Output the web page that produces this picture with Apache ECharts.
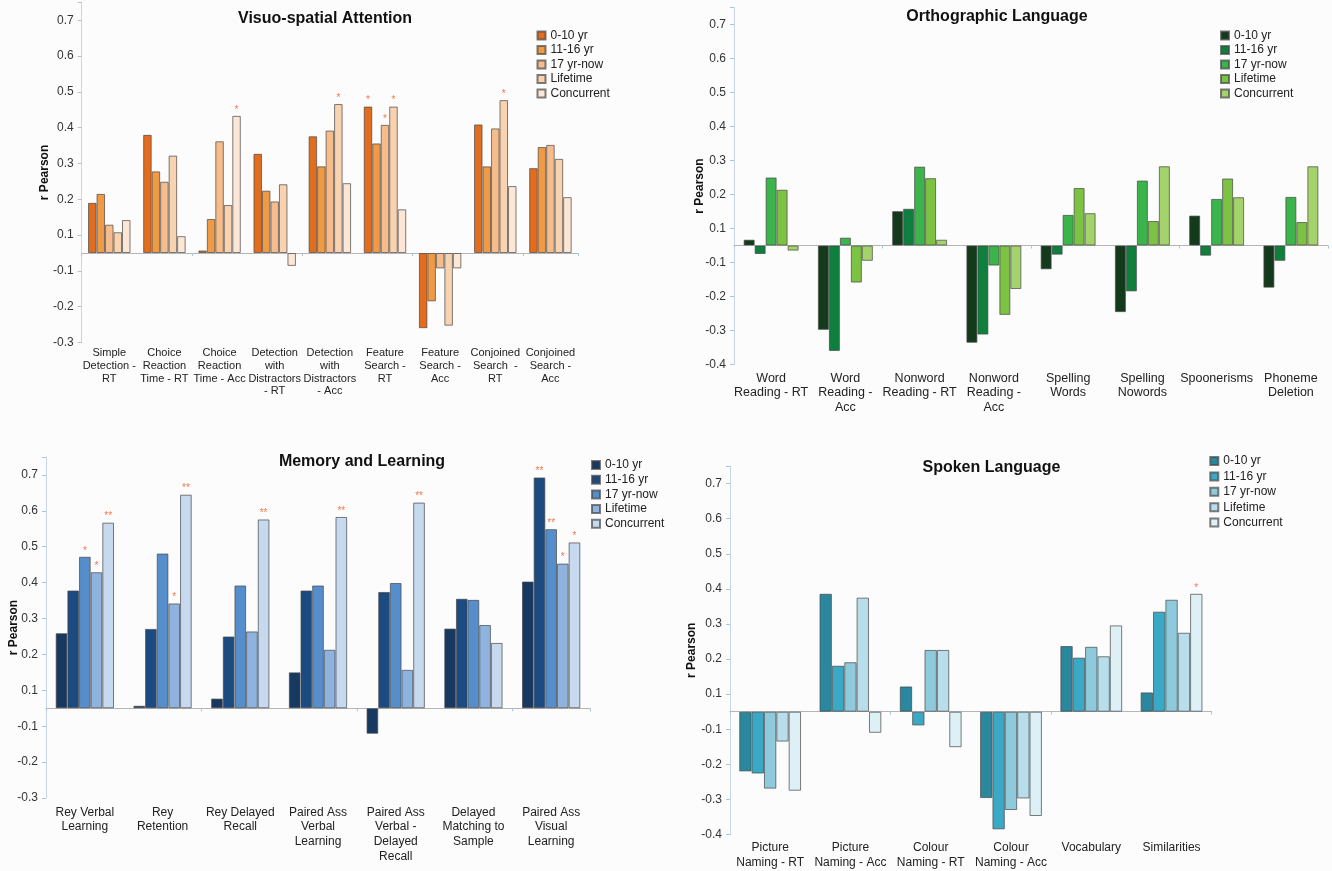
<!DOCTYPE html>
<html>
<head>
<meta charset="utf-8">
<script src="https://cdn.jsdelivr.net/npm/echarts@6/dist/echarts.min.js"></script>
<style>
  html, body { margin: 0; padding: 0; background: #fcfcfd; }
  .panel { position: absolute; }
</style>
</head>
<body>
<div id="visuo" class="panel" style="left:0;top:0;width:666px;height:435px"></div>
<div id="ortho" class="panel" style="left:666px;top:0;width:666px;height:435px"></div>
<div id="memory" class="panel" style="left:0;top:435px;width:700px;height:436px"></div>
<div id="spoken" class="panel" style="left:666px;top:435px;width:666px;height:436px"></div>
<script>
// Exposure periods (one bar per period in every task group)
const periodNames = ['0-10 yr', '11-16 yr', '17 yr-now', 'Lifetime', 'Concurrent'];

// ---- Visuo-spatial Attention ----
const visuoTasks = ['Simple\nDetection -\nRT', 'Choice\nReaction\nTime - RT', 'Choice\nReaction\nTime - Acc',
  'Detection\nwith\nDistractors\n- RT', 'Detection\nwith\nDistractors\n- Acc', 'Feature\nSearch -\nRT',
  'Feature\nSearch -\nAcc', 'Conjoined\nSearch  -\nRT', 'Conjoined\nSearch -\nAcc'];
const visuoR = [
  [0.140, 0.330, 0.007, 0.277, 0.326, 0.409, -0.210, 0.359, 0.237],
  [0.165, 0.228, 0.095, 0.174, 0.242, 0.306, -0.135, 0.242, 0.296],
  [0.079, 0.199, 0.312, 0.144, 0.342, 0.358, -0.043, 0.348, 0.302],
  [0.058, 0.272, 0.134, 0.192, 0.416, 0.409, -0.203, 0.427, 0.263],
  [0.092, 0.047, 0.383, -0.036, 0.195, 0.122, -0.043, 0.187, 0.156]
];
const visuoSig = [
  ['', '', '', '', '', '*', '', '', ''],
  ['', '', '', '', '', '', '', '', ''],
  ['', '', '', '', '', '*', '', '', ''],
  ['', '', '', '', '*', '*', '', '*', ''],
  ['', '', '*', '', '', '', '', '', '']
];

// ---- Orthographic Language ----
const orthoTasks = ['Word\nReading - RT', 'Word\nReading -\nAcc', 'Nonword\nReading - RT', 'Nonword\nReading -\nAcc',
  'Spelling\nWords', 'Spelling\nNowords', 'Spoonerisms', 'Phoneme\nDeletion'];
const orthoR = [
  [0.017, -0.248, 0.101, -0.286, -0.070, -0.196, 0.088, -0.124],
  [-0.025, -0.310, 0.108, -0.262, -0.027, -0.135, -0.030, -0.045],
  [0.200, 0.023, 0.232, -0.059, 0.090, 0.191, 0.137, 0.143],
  [0.164, -0.109, 0.198, -0.204, 0.169, 0.072, 0.197, 0.069],
  [-0.015, -0.045, 0.017, -0.128, 0.095, 0.233, 0.142, 0.233]
];
const orthoSig = [[], [], [], [], []];

// ---- Memory and Learning ----
const memoryTasks = ['Rey Verbal\nLearning', 'Rey\nRetention', 'Rey Delayed\nRecall', 'Paired Ass\nVerbal\nLearning',
  'Paired Ass\nVerbal -\nDelayed\nRecall', 'Delayed\nMatching to\nSample', 'Paired Ass\nVisual\nLearning'];
const memoryR = [
  [0.209, 0.007, 0.027, 0.100, -0.071, 0.222, 0.353],
  [0.328, 0.221, 0.200, 0.328, 0.324, 0.305, 0.643],
  [0.422, 0.431, 0.342, 0.342, 0.349, 0.302, 0.499],
  [0.379, 0.292, 0.214, 0.163, 0.107, 0.232, 0.403],
  [0.517, 0.595, 0.526, 0.533, 0.573, 0.182, 0.462]
];
const memorySig = [
  ['', '', '', '', '', '', ''],
  ['', '', '', '', '', '', '**'],
  ['*', '', '', '', '', '', '**'],
  ['*', '*', '', '', '', '', '*'],
  ['**', '**', '**', '**', '**', '', '*']
];

// ---- Spoken Language ----
const spokenTasks = ['Picture\nNaming - RT', 'Picture\nNaming - Acc', 'Colour\nNaming - RT', 'Colour\nNaming - Acc',
  'Vocabulary', 'Similarities'];
const spokenR = [
  [-0.170, 0.336, 0.072, -0.246, 0.187, 0.055],
  [-0.176, 0.131, -0.039, -0.335, 0.154, 0.285],
  [-0.219, 0.141, 0.176, -0.280, 0.185, 0.319],
  [-0.085, 0.325, 0.176, -0.247, 0.158, 0.225],
  [-0.225, -0.060, -0.101, -0.297, 0.246, 0.336]
];
const spokenSig = [[], [], [], [], ['', '', '', '', '', '*']];

const FONT = '"Liberation Sans", Arial, sans-serif';

// Value-axis ticks sit half-way between tenths; labels show the rounded tenth.
function tickText(v) {
  const k = Math.round(v * 100);
  if (Math.abs(k) % 10 !== 5) return '';
  return ((k > 0 ? k + 5 : k - 5) / 100).toFixed(1);
}

function drawPanel(id, cfg) {
  const chart = echarts.init(document.getElementById(id), null, { renderer: 'canvas' });
  const series = periodNames.map((name, i) => ({
    type: 'bar',
    name: name,
    data: cfg.values[i],
    xAxisIndex: 0,
    yAxisIndex: 0,
    barGap: '0%',
    barCategoryGap: cfg.catGap,
    itemStyle: { color: cfg.colors[i], borderColor: 'rgba(70,70,70,0.7)', borderWidth: 1 },
    label: {
      show: true,
      position: 'top',
      distance: 1,
      color: '#f2764f',
      fontSize: 10,
      fontFamily: FONT,
      formatter: p => (cfg.sig[i] && cfg.sig[i][p.dataIndex]) || ''
    }
  }));
  chart.setOption({
    animation: false,
    backgroundColor: 'transparent',
    textStyle: { fontFamily: FONT },
    title: {
      text: cfg.title,
      left: cfg.titleX,
      top: cfg.titleY,
      textAlign: 'center',
      padding: 0,
      textStyle: { fontSize: 16, fontWeight: 'bold', color: '#111', fontFamily: FONT }
    },
    legend: {
      orient: 'vertical',
      left: cfg.legendX,
      top: cfg.legendY,
      padding: 0,
      icon: 'rect',
      itemWidth: 8,
      itemHeight: 8,
      itemGap: cfg.legendGap,
      data: periodNames,
      textStyle: { fontSize: 12, color: '#222', fontFamily: FONT, lineHeight: 13 }
    },
    grid: { left: cfg.grid[0], top: cfg.grid[1], width: cfg.grid[2], height: cfg.grid[3] },
    xAxis: [
      {
        type: 'category',
        data: cfg.tasks,
        position: 'bottom',
        axisLine: { onZero: true, lineStyle: { color: '#b5b5b5', width: 1 } },
        axisTick: { show: true, length: 3, lineStyle: { color: '#a9c6da' } },
        axisLabel: { show: false },
        splitLine: { show: false }
      },
      {
        type: 'category',
        data: cfg.tasks,
        position: 'bottom',
        axisLine: { show: false, onZero: false },
        axisTick: { show: false },
        axisLabel: {
          interval: 0,
          fontSize: cfg.xFont,
          lineHeight: cfg.xLine,
          margin: cfg.xMargin,
          color: '#222',
          fontFamily: FONT
        },
        splitLine: { show: false }
      }
    ],
    yAxis: {
      type: 'value',
      min: cfg.yMin,
      max: 0.7,
      interval: 0.1,
      name: 'r Pearson',
      nameLocation: 'middle',
      nameGap: cfg.nameGap,
      nameMoveOverlap: false,
      nameTextStyle: { fontSize: 12, fontWeight: 'bold', color: '#111', fontFamily: FONT },
      axisLine: { show: true, lineStyle: { color: '#c8d5e2' } },
      axisTick: { show: true, length: 4, lineStyle: { color: '#a9c6da' } },
      axisLabel: { fontSize: 12, color: '#333', margin: 8, formatter: tickText, fontFamily: FONT },
      splitLine: { show: false }
    },
    series: series
  });
}

drawPanel('visuo', {
  title: 'Visuo-spatial Attention', titleX: 325, titleY: 11,
  tasks: visuoTasks, values: visuoR, sig: visuoSig,
  colors: ['#e36d1f', '#f19a45', '#f6bc8b', '#f9d3b0', '#fce7d6'],
  grid: [81.7, 2.4, 496.3, 340.1], yMin: -0.25, catGap: '23%',
  xFont: 11, xLine: 12.7, xMargin: 4.5, nameGap: 31,
  legendX: 536.5, legendY: 29, legendGap: 1.5
});

drawPanel('ortho', {
  title: 'Orthographic Language', titleX: 331, titleY: 9,
  tasks: orthoTasks, values: orthoR, sig: orthoSig,
  colors: ['#133a1b', '#0f7f3e', '#3bb54b', '#7cc243', '#a4d36b'],
  grid: [68, 7.5, 594, 357], yMin: -0.35, catGap: '26%',
  xFont: 12.5, xLine: 14.3, xMargin: 7, nameGap: 28,
  legendX: 554, legendY: 29, legendGap: 1.5
});

drawPanel('memory', {
  title: 'Memory and Learning', titleX: 362, titleY: 19,
  tasks: memoryTasks, values: memoryR, sig: memorySig,
  colors: ['#173861', '#1c4b81', '#568dcb', '#8db3de', '#c6d9ef'],
  grid: [45, 22, 545, 341], yMin: -0.25, catGap: '25%',
  xFont: 12, xLine: 14.7, xMargin: 7, nameGap: 26,
  legendX: 591, legendY: 23.5, legendGap: 1.7
});

drawPanel('spoken', {
  title: 'Spoken Language', titleX: 325.4, titleY: 25,
  tasks: spokenTasks, values: spokenR, sig: spokenSig,
  colors: ['#2b879d', '#3aa9c5', '#8fcadc', '#b7deea', '#dcf0f5'],
  grid: [64, 31, 481.7, 368.6], yMin: -0.35, catGap: '23%',
  xFont: 12, xLine: 15, xMargin: 6, nameGap: 32,
  legendX: 543.3, legendY: 19.5, legendGap: 2.4
});
</script>
</body>
</html>
